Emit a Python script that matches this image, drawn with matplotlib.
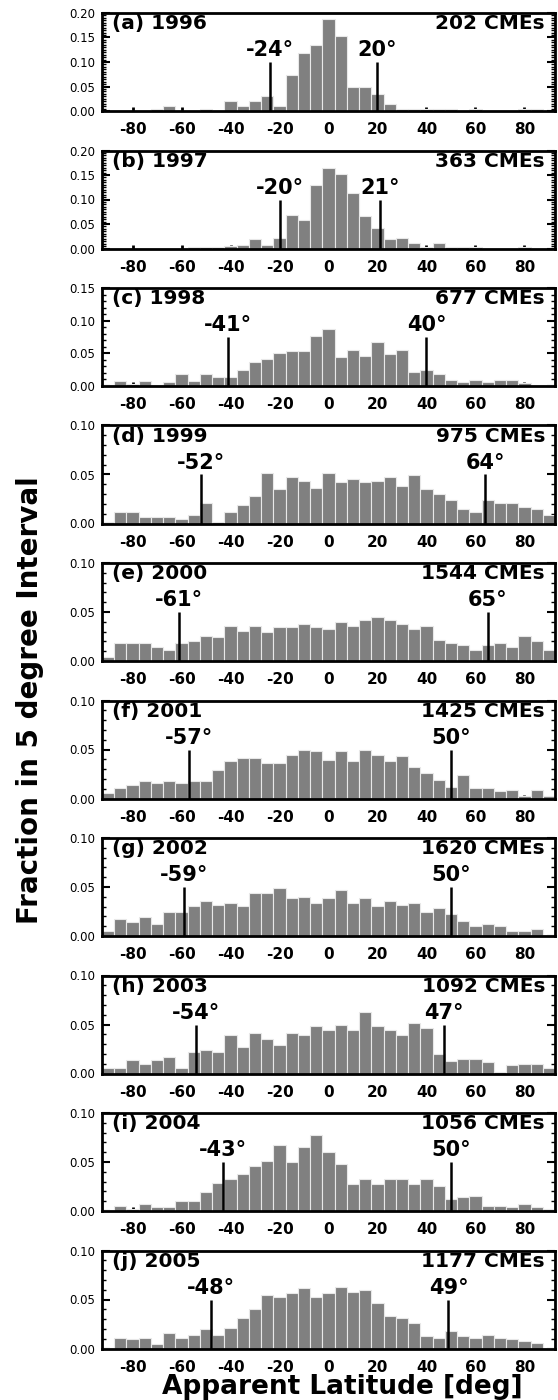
import matplotlib
matplotlib.use("Agg")
import matplotlib.pyplot as plt
from matplotlib.ticker import MultipleLocator, FormatStrFormatter

plt.rcParams['font.family'] = ['DejaVu Sans']
plt.rcParams['axes.unicode_minus'] = False

# 5-degree latitude bins, centred on multiples of 5
lat_centers = list(range(-90, 95, 5))

panel_tags = ['a', 'b', 'c', 'd', 'e', 'f', 'g', 'h', 'i', 'j']
years = [1996, 1997, 1998, 1999, 2000, 2001, 2002, 2003, 2004, 2005]
cme_counts = [202, 363, 677, 975, 1544, 1425, 1620, 1092, 1056, 1177]
south_edge = [-24, -20, -41, -52, -61, -57, -59, -54, -43, -48]
north_edge = [20, 21, 40, 64, 65, 50, 50, 47, 50, 49]
y_top = [0.20, 0.20, 0.15, 0.10, 0.10, 0.10, 0.10, 0.10, 0.10, 0.10]
marker_top = [0.10, 0.10, 0.075, 0.05, 0.05, 0.05, 0.05, 0.05, 0.05, 0.05]

frac_1996 = [0, 0, 0, 0, 0.005, 0.010, 0, 0, 0.005, 0, 0.020, 0.010, 0.020,
             0.030, 0.010, 0.074, 0.119, 0.134, 0.188, 0.153, 0.050, 0.050,
             0.035, 0.015, 0.005, 0.005, 0.005, 0.005, 0.005, 0, 0.005, 0, 0,
             0, 0.005, 0.005, 0]
frac_1997 = [0, 0, 0, 0, 0, 0, 0, 0.003, 0.003, 0.003, 0.006, 0.008, 0.019,
             0.008, 0.022, 0.069, 0.058, 0.129, 0.165, 0.152, 0.113, 0.066,
             0.041, 0.019, 0.022, 0.011, 0.003, 0.011, 0.003, 0.003, 0.003, 0,
             0, 0, 0.003, 0, 0]
frac_1998 = [0.002, 0.007, 0.003, 0.007, 0.001, 0.006, 0.019, 0.007, 0.019,
             0.014, 0.014, 0.024, 0.036, 0.041, 0.051, 0.053, 0.053, 0.076,
             0.088, 0.044, 0.055, 0.046, 0.067, 0.049, 0.055, 0.022, 0.024,
             0.019, 0.009, 0.006, 0.009, 0.006, 0.009, 0.009, 0.004, 0.002,
             0.001]
frac_1999 = [0.002, 0.012, 0.012, 0.007, 0.007, 0.007, 0.005, 0.009, 0.021,
             0.0015, 0.012, 0.019, 0.028, 0.052, 0.035, 0.047, 0.043, 0.036,
             0.052, 0.042, 0.045, 0.042, 0.043, 0.047, 0.038, 0.049, 0.035,
             0.030, 0.024, 0.015, 0.012, 0.024, 0.021, 0.021, 0.017, 0.015,
             0.009]
frac_2000 = [0.004, 0.018, 0.018, 0.018, 0.014, 0.011, 0.018, 0.020, 0.026,
             0.025, 0.036, 0.031, 0.036, 0.030, 0.035, 0.035, 0.038, 0.035,
             0.033, 0.040, 0.036, 0.042, 0.045, 0.042, 0.038, 0.033, 0.036,
             0.021, 0.018, 0.016, 0.011, 0.016, 0.018, 0.014, 0.026, 0.020,
             0.011]
frac_2001 = [0.0056, 0.011, 0.014, 0.018, 0.016, 0.018, 0.016, 0.018, 0.018,
             0.029, 0.038, 0.041, 0.041, 0.036, 0.036, 0.044, 0.049, 0.048,
             0.039, 0.048, 0.038, 0.049, 0.044, 0.038, 0.043, 0.032, 0.026,
             0.019, 0.012, 0.024, 0.011, 0.011, 0.0074, 0.0088, 0.0025,
             0.0088, 0.0025]
frac_2002 = [0.005, 0.017, 0.014, 0.019, 0.012, 0.024, 0.024, 0.031, 0.036,
             0.032, 0.034, 0.031, 0.044, 0.044, 0.049, 0.039, 0.040, 0.034,
             0.039, 0.047, 0.034, 0.039, 0.031, 0.036, 0.032, 0.034, 0.025,
             0.029, 0.022, 0.015, 0.010, 0.012, 0.010, 0.005, 0.005, 0.0067,
             0.001]
frac_2003 = [0.0053, 0.0053, 0.014, 0.010, 0.014, 0.017, 0.0053, 0.022, 0.024,
             0.022, 0.039, 0.027, 0.041, 0.035, 0.029, 0.041, 0.039, 0.048,
             0.044, 0.049, 0.044, 0.063, 0.048, 0.044, 0.039, 0.052, 0.046,
             0.020, 0.013, 0.015, 0.015, 0.012, 0.002, 0.0085, 0.010, 0.010,
             0.0053]
frac_2004 = [0.001, 0.005, 0.002, 0.007, 0.004, 0.004, 0.010, 0.010, 0.019,
             0.029, 0.033, 0.038, 0.046, 0.051, 0.067, 0.050, 0.065, 0.078,
             0.060, 0.048, 0.028, 0.033, 0.028, 0.033, 0.033, 0.028, 0.033,
             0.026, 0.012, 0.014, 0.015, 0.005, 0.005, 0.004, 0.007, 0.004,
             0.002]
frac_2005 = [0.001, 0.011, 0.0095, 0.011, 0.0046, 0.016, 0.011, 0.014, 0.020,
             0.014, 0.021, 0.031, 0.040, 0.055, 0.053, 0.057, 0.062, 0.053,
             0.057, 0.063, 0.058, 0.060, 0.046, 0.033, 0.031, 0.026, 0.013,
             0.011, 0.018, 0.013, 0.011, 0.014, 0.011, 0.0095, 0.0077, 0.006,
             0.001]

fractions = [frac_1996, frac_1997, frac_1998, frac_1999, frac_2000,
             frac_2001, frac_2002, frac_2003, frac_2004, frac_2005]

W, H = 558, 1400
fig = plt.figure(figsize=(W / 100, H / 100), dpi=100)

left_px, right_px = 102, 555
top0, pitch, height = 13, 137.5, 98

for i in range(10):
    top = top0 + i * pitch
    ax = fig.add_axes([left_px / W, 1 - (top + height) / H,
                       (right_px - left_px) / W, height / H])
    ax.bar(lat_centers, fractions[i], width=5, color='#808080',
           edgecolor='#e8e8e8', linewidth=0.8, zorder=2)
    ax.set_xlim(-92.5, 92.5)
    ax.set_ylim(0, y_top[i])

    # latitude extent markers
    for edge in (south_edge[i], north_edge[i]):
        ax.vlines(edge, 0, marker_top[i], color='black', lw=1.8, zorder=3)
        ax.annotate(f'{edge}\u00b0', xy=(edge, marker_top[i]),
                    xytext=(0, 4), textcoords='offset points',
                    ha='center', va='baseline', fontsize=15,
                    fontweight='bold', zorder=4)

    ax.text(0.022, 0.985, f'({panel_tags[i]}) {years[i]}',
            transform=ax.transAxes, ha='left', va='top',
            fontsize=14.5, fontweight='bold')
    ax.text(0.978, 0.985, f'{cme_counts[i]} CMEs',
            transform=ax.transAxes, ha='right', va='top',
            fontsize=14.5, fontweight='bold')

    ax.set_xticks(range(-80, 81, 20))
    ax.yaxis.set_major_locator(MultipleLocator(0.05))
    ax.yaxis.set_minor_locator(MultipleLocator(0.005 if y_top[i] > 0.15 else 0.01))
    ax.yaxis.set_major_formatter(FormatStrFormatter('%.2f'))

    ax.tick_params(axis='y', which='major', direction='in', length=6,
                   width=1.5, left=True, right=True, labelsize=8.5, pad=5)
    ax.tick_params(axis='y', which='minor', direction='in', length=3,
                   width=1.0, left=True, right=True)
    ax.tick_params(axis='x', which='major', direction='in', length=3,
                   width=2.0, top=False, labelsize=11, pad=8)
    for lab in ax.get_xticklabels():
        lab.set_fontweight('bold')
    for sp in ax.spines.values():
        sp.set_linewidth(2.0)
        sp.set_zorder(5)

fig.text(30 / W, 1 - 700 / H, 'Fraction in 5 degree Interval',
         rotation=90, ha='center', va='center', fontsize=20,
         fontweight='bold')
fig.text(342 / W, 1 - 1394 / H, 'Apparent Latitude [deg]',
         ha='center', va='baseline', fontsize=19, fontweight='bold')

fig.savefig('out.png', dpi=100)
